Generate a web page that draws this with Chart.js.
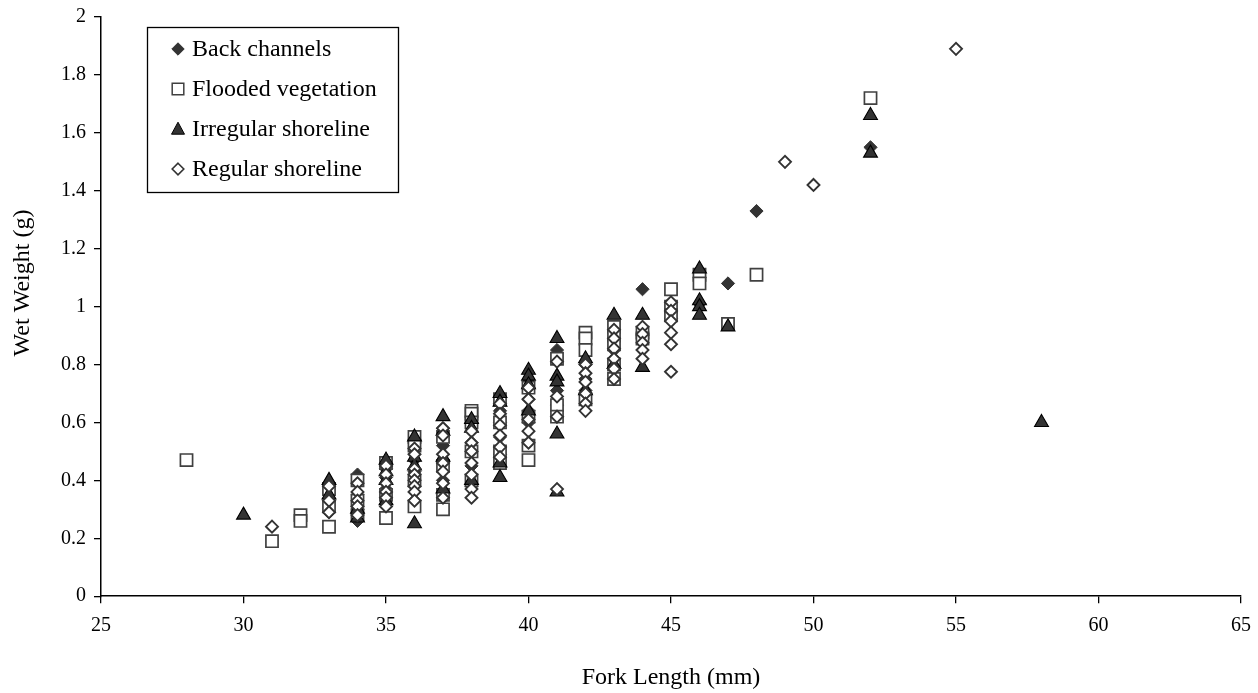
<!DOCTYPE html>
<html>
<head>
<meta charset="utf-8">
<script src="https://cdn.jsdelivr.net/npm/chart.js@4/dist/chart.umd.min.js"></script>
<style>
html,body{margin:0;padding:0;background:#fff;}
#wrap{width:1258px;height:693px;}
</style>
</head>
<body>
<div id="wrap"><canvas id="c" width="1258" height="693"></canvas></div>
<script>
// ---- Data (Fork Length mm, Wet Weight g) ----
const backX = [33,33, 34,34,34,34, 35,35,35,35, 36,36,36,36, 37,37,37,37,37, 38,38,38,38, 39,39,39,39, 40,40,40,40, 41,41,41,41, 42,42,42, 43,43, 44,44, 45, 46,46, 47, 48, 52];
const backY = [0.29,0.33, 0.26,0.30,0.35,0.42, 0.32,0.37,0.41,0.44, 0.33,0.38,0.43,0.47, 0.35,0.40,0.46,0.52,0.58, 0.38,0.45,0.53,0.60, 0.49,0.55,0.60,0.64, 0.60,0.64,0.68,0.74, 0.85,0.71,0.66,0.62, 0.80,0.75,0.71, 0.85,0.82, 1.06,0.90, 0.96, 1.10,1.01, 1.08, 1.33, 1.55];

const floodX = [28, 31, 32,32, 33,33,33, 34,34,34, 35,35,35, 36,36,36,36, 37,37,37,37, 38,38,38,38,38, 39,39,39,39, 40,40,40,40, 41,41,41, 42,42,42,42, 43,43,43,43,43, 44,44, 45,45,45, 46,46, 47, 48, 52];
const floodY = [0.47, 0.19, 0.28,0.26, 0.37,0.31,0.24, 0.28,0.33,0.40, 0.46,0.35,0.27, 0.55,0.52,0.40,0.31, 0.55,0.45,0.35,0.30, 0.64,0.63,0.60,0.50,0.40, 0.68,0.60,0.50,0.46, 0.72,0.62,0.52,0.47, 0.82,0.66,0.62, 0.91,0.89,0.85,0.68, 0.93,0.90,0.87,0.80,0.75, 0.91,0.89, 1.06,1.00,0.97, 1.11,1.08, 0.94, 1.11, 1.72];

const irregX = [30, 33,33, 34,34, 35,35,35,35, 36,36,36,36, 37,37,37,37, 38,38,38, 39,39,39,39, 40,40,40,40, 41,41,41,41,41, 42,42, 43,43, 44,44, 46,46,46,46, 47, 52,52, 58];
const irregY = [0.28, 0.40,0.35, 0.30,0.27, 0.47,0.43,0.40,0.33, 0.55,0.48,0.45,0.25, 0.62,0.57,0.48,0.37, 0.61,0.58,0.40, 0.70,0.67,0.46,0.41, 0.78,0.76,0.73,0.64, 0.89,0.76,0.74,0.56,0.36, 0.82,0.71, 0.97,0.80, 0.97,0.79, 1.13,1.02,1.00,0.97, 0.93, 1.66,1.53, 0.60];

const regX = [31, 33,33,33, 34,34,34,34,34, 35,35,35,35,35,35, 36,36,36,36,36,36,36,36, 37,37,37,37,37,37,37, 38,38,38,38,38,38,38, 39,39,39,39,39,39, 40,40,40,40,40, 41,41,41,41, 42,42,42,42,42,42, 43,43,43,43,43,43, 44,44,44,44,44, 45,45,45,45,45,45, 49, 50, 55];
const regY = [0.24, 0.38,0.33,0.29, 0.39,0.36,0.33,0.31,0.28, 0.45,0.42,0.39,0.36,0.34,0.31, 0.51,0.49,0.44,0.42,0.40,0.38,0.36,0.33, 0.58,0.555,0.49,0.46,0.43,0.39,0.34, 0.57,0.53,0.50,0.46,0.42,0.37,0.34, 0.665,0.63,0.59,0.555,0.515,0.48, 0.72,0.68,0.61,0.57,0.53, 0.81,0.69,0.62,0.37, 0.80,0.77,0.74,0.70,0.665,0.64, 0.92,0.89,0.855,0.82,0.785,0.75, 0.93,0.905,0.875,0.85,0.82, 1.015,0.985,0.95,0.91,0.87,0.775, 1.50, 1.42, 1.89];

const seriesNames = ['Back channels','Flooded vegetation','Irregular shoreline','Regular shoreline'];
const xTitle = 'Fork Length (mm)';
const yTitle = 'Wet Weight (g)';

const FONT = "'Liberation Serif', 'Times New Roman', serif";
const pts = (xs, ys) => xs.map((x, i) => ({x: x, y: ys[i]}));

const styles = [
  {pointStyle:'rectRot', pointRadius:6.6, backgroundColor:'#333333', borderColor:'#333333', borderWidth:1, order:4},
  {pointStyle:'rect', pointRadius:8.6, backgroundColor:'#ffffff', borderColor:'#404040', borderWidth:1.7, order:3},
  {pointStyle:'triangle', pointRadius:8, backgroundColor:'#333333', borderColor:'#000000', borderWidth:1.1, order:2},
  {pointStyle:'rectRot', pointRadius:6, backgroundColor:'#ffffff', borderColor:'#333333', borderWidth:1.9, order:1}
];
const dataSets = [pts(backX,backY), pts(floodX,floodY), pts(irregX,irregY), pts(regX,regY)];

function drawMarker(ctx, kind, x, y) {
  ctx.save();
  ctx.beginPath();
  if (kind === 0 || kind === 3) {
    const r = kind === 0 ? 6.2 : 5.8;
    ctx.moveTo(x, y - r); ctx.lineTo(x + r, y); ctx.lineTo(x, y + r); ctx.lineTo(x - r, y); ctx.closePath();
    ctx.fillStyle = kind === 0 ? '#333333' : '#ffffff';
    ctx.strokeStyle = '#333333'; ctx.lineWidth = kind === 0 ? 1 : 1.6;
  } else if (kind === 1) {
    ctx.rect(x - 5.8, y - 5.8, 11.6, 11.6);
    ctx.fillStyle = '#ffffff'; ctx.strokeStyle = '#404040'; ctx.lineWidth = 1.5;
  } else {
    ctx.moveTo(x, y - 6.8); ctx.lineTo(x + 6.5, y + 5.2); ctx.lineTo(x - 6.5, y + 5.2); ctx.closePath();
    ctx.fillStyle = '#333333'; ctx.strokeStyle = '#000000'; ctx.lineWidth = 1;
  }
  ctx.fill(); ctx.stroke();
  ctx.restore();
}

const extras = {
  id: 'extras',
  afterDraw(chart) {
    const ctx = chart.ctx;
    // legend box
    ctx.save();
    ctx.fillStyle = '#ffffff';
    ctx.fillRect(147.5, 27.5, 251, 165);
    ctx.strokeStyle = '#000000';
    ctx.lineWidth = 1.3;
    ctx.strokeRect(147.5, 27.5, 251, 165);
    ctx.font = '24px ' + FONT;
    ctx.fillStyle = '#000000';
    ctx.textBaseline = 'middle';
    ctx.textAlign = 'left';
    seriesNames.forEach((name, i) => {
      const yy = 49 + i * 40;
      drawMarker(ctx, i, 178, yy);
      ctx.fillText(name, 192, yy + 1);
    });
    ctx.restore();
    // y axis title
    ctx.save();
    ctx.translate(23, 283);
    ctx.rotate(-Math.PI / 2);
    ctx.font = '24px ' + FONT;
    ctx.fillStyle = '#000000';
    ctx.textAlign = 'center';
    ctx.textBaseline = 'middle';
    ctx.fillText(yTitle, 0, 0);
    ctx.restore();
  }
};

new Chart(document.getElementById('c'), {
  type: 'scatter',
  data: {
    datasets: dataSets.map((d, i) => Object.assign({label: seriesNames[i], data: d, showLine: false}, styles[i]))
  },
  options: {
    responsive: false,
    animation: false,
    events: [],
    layout: {padding: {left: 53, right: 0, top: 0, bottom: 0}},
    plugins: {legend: {display: false}, tooltip: {enabled: false}},
    scales: {
      x: {
        type: 'linear', min: 25, max: 65,
        afterFit: (s) => { s.paddingRight = 17; },
        ticks: {stepSize: 5, color: '#000', font: {family: FONT, size: 20}, padding: 11, maxRotation: 0},
        grid: {display: true, drawOnChartArea: false, drawTicks: true, tickLength: 7, color: '#000', lineWidth: 1.3},
        border: {display: true, color: '#000', width: 1.5},
        title: {display: true, text: xTitle, color: '#000', font: {family: FONT, size: 24}, padding: {top: 14, bottom: 1}}
      },
      y: {
        type: 'linear', min: 0, max: 2,
        afterFit: (s) => { s.paddingTop = 17; s.paddingBottom = 0; },
        ticks: {stepSize: 0.2, color: '#000', font: {family: FONT, size: 20, lineHeight: 1}, padding: 8,
          callback: (v) => String(parseFloat(Number(v).toFixed(1)))},
        grid: {display: true, drawOnChartArea: false, drawTicks: true, tickLength: 7, color: '#000', lineWidth: 1.3},
        border: {display: true, color: '#000', width: 1.5},
        title: {display: false}
      }
    }
  },
  plugins: [extras]
});
</script>
</body>
</html>
